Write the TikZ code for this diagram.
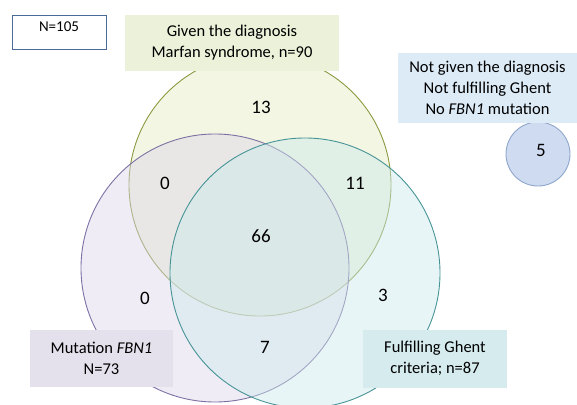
\documentclass[tikz,border=0pt]{standalone}
\usepackage{fontspec}
\setmainfont{Carlito}
\usetikzlibrary{positioning}
\definecolor{diagedge}{HTML}{8A9A40}
\definecolor{diagfill}{HTML}{E2EAC0}
\definecolor{fbnedge}{HTML}{7E70A3}
\definecolor{fbnfill}{HTML}{DCD5EA}
\definecolor{ghentedge}{HTML}{479496}
\definecolor{ghentfill}{HTML}{CDE9EC}
\definecolor{noneedge}{HTML}{8FA6CC}
\definecolor{nonefill}{HTML}{CAD7EE}
\definecolor{diagtag}{HTML}{ECF1DA}
\definecolor{fbntag}{HTML}{E4E0EC}
\definecolor{ghenttag}{HTML}{D5EBEE}
\definecolor{nonetag}{HTML}{DCEBF6}
\definecolor{totaledge}{HTML}{4A6B9A}
\tikzset{
  ring/.style={circle,draw=#1edge,line width=0.9pt,fill=#1fill,fill opacity=0.45,inner sep=0pt},
  tag/.style={fill=#1tag,align=center,inner sep=0pt,font=\fontsize{16.5}{21}\selectfont},
  count/.style={font=\fontsize{19}{22}\selectfont}
}

\begin{document}
\begin{tikzpicture}[x=1pt,y=-1pt]
  \useasboundingbox (0,0) rectangle (577,404);
  % the three sets
  \node[ring=diag,minimum size=262pt] (diag) at (260,185) {};
  \node[ring=fbn,minimum size=268pt] (fbn) at (215,268) {};
  \node[ring=ghent,minimum size=270pt] (ghent) at (305,273) {};
  \node[ring=none,fill opacity=0.9,minimum size=64pt] (none) at (538,154) {};
  % labels
  \node[draw=totaledge,line width=0.9pt,fill=white,minimum width=94pt,minimum height=34pt,
        text height=8pt,text depth=8pt,font=\fontsize{15}{18}\selectfont] (total) at (59,32) {N=105};
  \node[tag=diag,minimum width=214pt,minimum height=56pt] (diaglabel) at (232,43)
    {Given the diagnosis\\Marfan syndrome, n=90};
  \node[tag=none,minimum width=179pt,minimum height=70pt] (nonelabel) at (487.5,88)
    {Not given the diagnosis\\Not fulfilling Ghent\\No \textit{FBN1} mutation};
  \node[tag=fbn,minimum width=143pt,minimum height=57pt] (fbnlabel) at (101.5,358.5)
    {Mutation \textit{FBN1}\\N=73};
  \node[tag=ghent,minimum width=144pt,minimum height=58pt] (ghentlabel) at (435,358.5)
    {Fulfilling Ghent\\criteria; n=87};
  % counts
  \node[count] (onlydiag) at (261,107) {13};
  \node[count] (diagfbn) at (165,183) {0};
  \node[count] (diagghent) at (355,183) {11};
  \node[count] (all) at (261,236) {66};
  \node[count] (onlyfbn) at (145,298) {0};
  \node[count] (onlyghent) at (383,295) {3};
  \node[count] (fbnghent) at (265,347) {7};
  \node[count] (nonecount) at (541,150) {5};
\end{tikzpicture}
\end{document}
